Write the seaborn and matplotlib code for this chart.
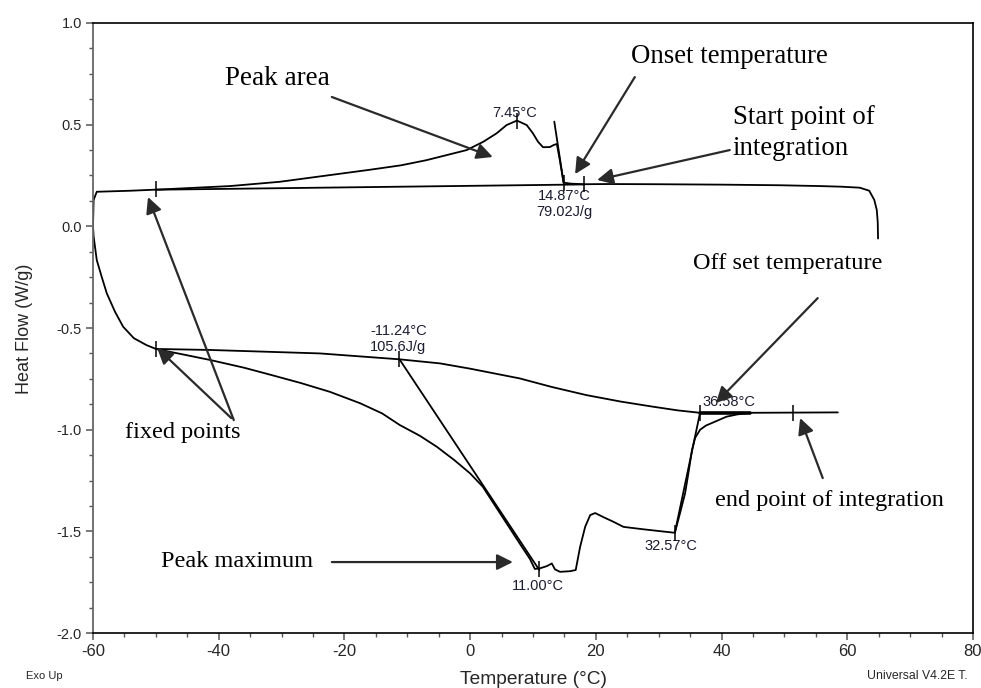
import numpy as np
import pandas as pd
import matplotlib.pyplot as plt
import seaborn as sns
from matplotlib.ticker import MultipleLocator

# cooling trace (drawn from the hot end leftwards)
cool_T = [64.9, 64.85, 64.7, 64.3, 63.5, 62.0, 59.0, 55.6, 49.3, 40.0, 30.0, 22.0,
          18.0, 16.0, 14.87, 14.3, 13.8, 13.3, 12.7, 11.6, 10.8, 10.0, 9.0, 7.45,
          5.8, 4.2, 2.1, -0.55, -4.8, -7.0, -11.0, -16.0, -22.3, -30.3, -38.2,
          -43.5, -48.8, -54.1, -59.4, -59.9, -60.0]
cool_HF = [-0.06, 0.02, 0.08, 0.13, 0.175, 0.19, 0.195, 0.198, 0.202, 0.205, 0.207, 0.208,
           0.207, 0.21, 0.215, 0.32, 0.405, 0.40, 0.39, 0.389, 0.416, 0.457, 0.498, 0.52,
           0.498, 0.457, 0.416, 0.375, 0.342, 0.325, 0.30, 0.278, 0.252, 0.219, 0.198,
           0.19, 0.182, 0.175, 0.17, 0.13, 0.0]

# heating trace
heat_T = [-60.0, -59.9, -59.4, -58.6, -57.8, -56.5, -55.2, -53.5, -51.5, -49.9, -46.0,
          -41.4, -36.0, -32.0, -27.0, -22.3, -17.5, -14.0, -11.2, -8.0, -5.3, -2.5, 0.0,
          2.0, 4.0, 6.0, 8.0, 9.5, 10.3, 11.1, 12.2, 13.0, 13.5, 14.3, 15.9, 16.8, 17.5,
          18.3, 19.1, 19.9, 21.2, 22.8, 24.4, 27.6, 30.2, 32.57, 33.4, 34.2, 34.8, 35.3,
          35.8, 36.6, 37.5, 39.0, 40.8, 42.5, 44.5]
heat_HF = [0.0, -0.05, -0.166, -0.25, -0.33, -0.42, -0.494, -0.55, -0.584, -0.604, -0.628,
           -0.657, -0.695, -0.728, -0.77, -0.814, -0.87, -0.92, -0.977, -1.03, -1.084, -1.15,
           -1.215, -1.28, -1.375, -1.47, -1.565, -1.635, -1.685, -1.682, -1.671, -1.658,
           -1.687, -1.699, -1.696, -1.69, -1.576, -1.478, -1.42, -1.41, -1.43, -1.453,
           -1.478, -1.49, -1.499, -1.507, -1.41, -1.313, -1.2, -1.1, -1.04, -1.0, -0.98,
           -0.96, -0.936, -0.925, -0.917]

# integration baselines
upper_base_T = [-50.0, 18.1]
upper_base_HF = [0.18, 0.206]
lower_base_T = [-50.0, -41.4, -23.9, -11.24, -4.8, 0.0, 7.9, 13.0, 18.5, 24.0, 29.1,
                33.0, 36.58, 44.5, 58.5]
lower_base_HF = [-0.603, -0.608, -0.625, -0.654, -0.674, -0.70, -0.748, -0.79, -0.83,
                 -0.862, -0.887, -0.905, -0.917, -0.917, -0.915]

# construction (tangent) lines
onset_T, onset_HF = [13.39, 14.87], [0.515, 0.215]
peak_T, peak_HF = [-11.24, 11.0], [-0.654, -1.69]
offset_T, offset_HF = [32.57, 36.58], [-1.507, -0.917]

# analysis markers
mark_T = [-50.0, 7.45, 14.87, 18.1, -50.0, -11.24, 11.0, 32.57, 36.58, 51.4]
mark_HF = [0.183, 0.52, 0.215, 0.206, -0.604, -0.654, -1.685, -1.507, -0.917, -0.916]

# result labels
res_text = ["7.45°C", "14.87°C\n79.02J/g", "-11.24°C\n105.6J/g", "36.58°C", "11.00°C", "32.57°C"]
res_T = [7.1, 15.0, -11.4, 36.9, 10.7, 32.0]
res_HF = [0.557, 0.11, -0.553, -0.862, -1.77, -1.572]
res_ha = ['center', 'center', 'center', 'left', 'center', 'center']

sns.set_style("ticks")
plt.rcParams['axes.unicode_minus'] = False
plt.rcParams['font.family'] = ['Liberation Sans', 'DejaVu Sans']

fig = plt.figure(figsize=(9.81, 6.88), dpi=100)
ax = fig.add_axes([0.0948, 0.0799, 0.8970, 0.8867])

lw = 1.3
sns.lineplot(x=cool_T, y=cool_HF, sort=False, estimator=None, color='black', lw=lw, ax=ax)
sns.lineplot(x=heat_T, y=heat_HF, sort=False, estimator=None, color='black', lw=lw, ax=ax)
sns.lineplot(x=upper_base_T, y=upper_base_HF, sort=False, estimator=None, color='black', lw=lw, ax=ax)
sns.lineplot(x=lower_base_T, y=lower_base_HF, sort=False, estimator=None, color='black', lw=lw, ax=ax)
for tx, ty in [(onset_T, onset_HF), (peak_T, peak_HF), (offset_T, offset_HF)]:
    sns.lineplot(x=tx, y=ty, sort=False, estimator=None, color='black', lw=lw, ax=ax)
sns.lineplot(x=[36.58, 44.5], y=[-0.917, -0.917], sort=False, estimator=None, color='black', lw=2.6, ax=ax)
sns.scatterplot(x=mark_T, y=mark_HF, marker='|', s=140, color='black', linewidth=1.1, ax=ax, zorder=5)

for t, x, y, ha in zip(res_text, res_T, res_HF, res_ha):
    ax.text(x, y, t, fontsize=10.5, ha=ha, va='center', color='#1c1c30', linespacing=1.2)

# annotations
serif = ['Liberation Serif', 'DejaVu Serif']
arrow = dict(arrowstyle='-|>', color='#2a2a2a', lw=1.6, mutation_scale=24,
             shrinkA=0, shrinkB=0)
notes = [("Peak area", -30.7, 0.725, 'center', 19.5, [((-22.0, 0.636), (3.6, 0.341))]),
         ("Onset temperature", 41.3, 0.833, 'center', 19.3, [((26.2, 0.734), (16.7, 0.257))]),
         ("Start point of\nintegration", 41.8, 0.459, 'left', 19.3, [((41.3, 0.375), (20.2, 0.228))]),
         ("Off set temperature", 50.6, -0.185, 'center', 17.5, [((55.3, -0.353), (39.1, -0.869))]),
         ("end point of integration", 57.1, -1.346, 'center', 17.5, [((56.1, -1.238), (52.5, -0.943))]),
         ("Peak maximum", -37.1, -1.646, 'center', 17.5, [((-22.0, -1.651), (6.8, -1.651))]),
         ("fixed points", -45.7, -1.012, 'center', 17.5, [((-37.6, -0.953), (-51.25, 0.144)),
                                                          ((-38.0, -0.943), (-49.8, -0.598))])]
for label, x, y, ha, fs, arrows in notes:
    ax.text(x, y, label, family=serif, fontsize=fs, ha=ha, va='center',
            color='black', linespacing=1.3)
    for start, tip in arrows:
        ax.annotate('', xy=tip, xytext=start, arrowprops=arrow)

ax.set_xlim(-60, 80)
ax.set_ylim(-2.0, 1.0)
ax.xaxis.set_major_locator(MultipleLocator(20))
ax.xaxis.set_minor_locator(MultipleLocator(5))
ax.yaxis.set_major_locator(MultipleLocator(0.5))
ax.yaxis.set_minor_locator(MultipleLocator(0.125))
ax.yaxis.set_major_formatter(plt.FuncFormatter(lambda v, p: f"{v:.1f}"))
ax.tick_params(axis='both', which='major', direction='out', length=5, width=1.1, color='#555')
ax.tick_params(axis='both', which='minor', direction='out', length=3, width=1.0, color='#555')
ax.tick_params(axis='x', labelsize=12, pad=3)
ax.tick_params(axis='y', labelsize=10.5, pad=3)
for side in ['top', 'right', 'bottom']:
    ax.spines[side].set_color('black')
    ax.spines[side].set_linewidth(1.2)
ax.spines['left'].set_color('#666')
ax.spines['left'].set_linewidth(1.3)
ax.set_xlabel('')
ax.set_ylabel('Heat Flow (W/g)', fontsize=13, va='center')
ax.yaxis.set_label_coords(-0.078, 0.498)

fig.text(533 / 981, 1 - 671 / 688, 'Temperature (°C)', fontsize=13.8, ha='center', va='top')
fig.text(26 / 981, 1 - 676 / 688, 'Exo Up', fontsize=8, ha='left', va='center')
fig.text(867 / 981, 1 - 676 / 688, 'Universal V4.2E T.', fontsize=8.8, ha='left', va='center')

fig.savefig('out.png', dpi=100)
